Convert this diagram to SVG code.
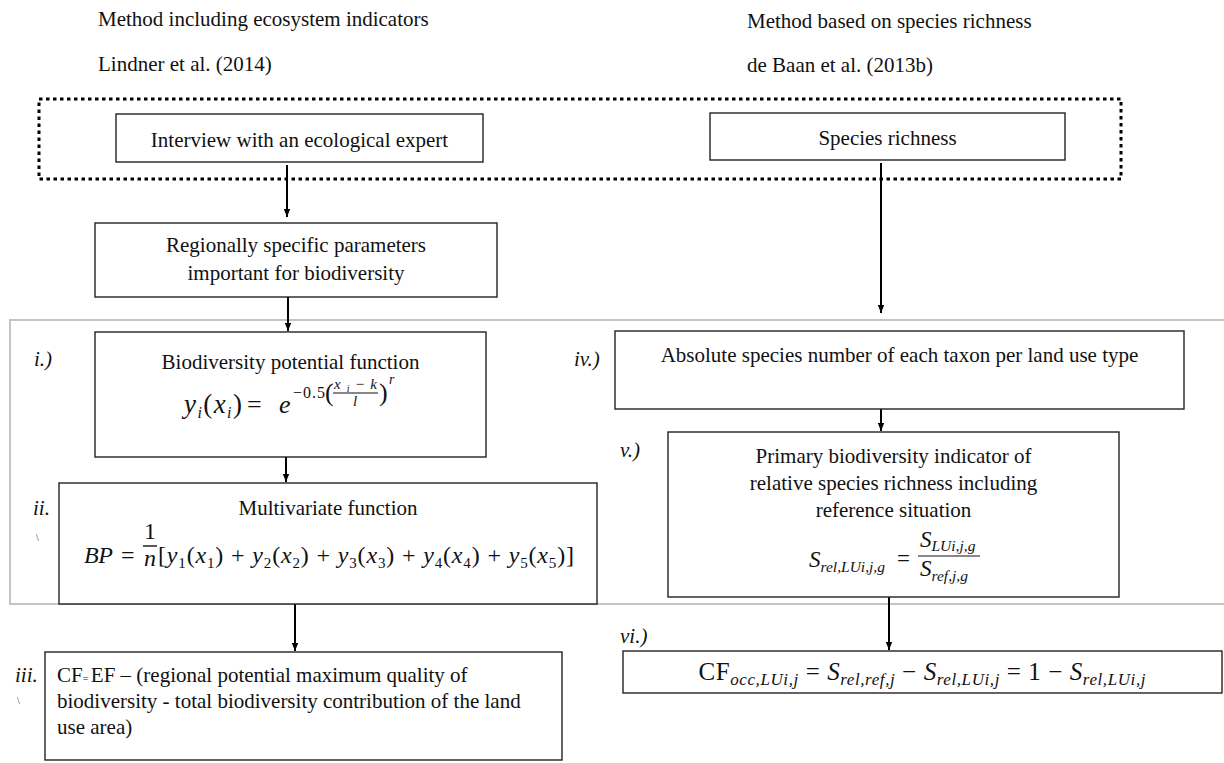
<svg xmlns="http://www.w3.org/2000/svg" width="1224" height="763" viewBox="0 0 1224 763">
<defs>
<style>
.t{font-family:"Liberation Serif","Times New Roman",serif;font-size:21px;fill:#111}
.c{text-anchor:middle}
.it{font-style:italic}
.m{font-family:"Liberation Serif","Times New Roman",serif;font-style:italic;font-size:24px;fill:#111}
.up{font-style:normal}
.sb{font-size:15px}
.box{fill:#fff;stroke:#222;stroke-width:1.4}
.arr{stroke:#000;stroke-width:2;fill:none;marker-end:url(#ah)}
.tick{font-family:"Liberation Serif",serif;font-size:10px;fill:#333}
</style>
<marker id="ah" viewBox="0 0 10 10" refX="10" refY="5" markerUnits="userSpaceOnUse" markerWidth="9" markerHeight="8" orient="auto">
<path d="M0,1 L10,5 L0,9 Z" fill="#000"/>
</marker>
</defs>
<rect width="1224" height="763" fill="#fff"/>

<g id="headers">
<text class="t" x="98" y="26">Method including ecosystem indicators</text>
<text class="t" x="98" y="71">Lindner et al. (2014)</text>
<text class="t" x="747" y="28">Method based on species richness</text>
<text class="t" x="747" y="72">de Baan et al. (2013b)</text>
</g>

<g id="frames">
<rect x="39" y="99" width="1082" height="80" fill="none" stroke="#000" stroke-width="3" stroke-dasharray="3.5 3.5"/>
<rect x="10" y="320" width="1230" height="284" fill="none" stroke="#c4c4c4" stroke-width="2"/>
</g>

<g id="connectors">
<line class="arr" x1="287" y1="165" x2="287" y2="217"/>
<line class="arr" x1="881" y1="163" x2="881" y2="313"/>
<line class="arr" x1="288" y1="297" x2="288" y2="331"/>
<line class="arr" x1="286" y1="457" x2="286" y2="482"/>
<line class="arr" x1="295" y1="604" x2="295" y2="651"/>
<line class="arr" x1="881" y1="405" x2="881" y2="431"/>
<line class="arr" x1="889" y1="597" x2="889" y2="650"/>
</g>

<g id="interview">
<rect class="box" x="116" y="114" width="367" height="48"/>
<text class="t c" x="299.5" y="147">Interview with an ecological expert</text>
</g>

<g id="species-richness">
<rect class="box" x="710" y="113" width="355" height="47"/>
<text class="t c" x="887.5" y="145">Species richness</text>
</g>

<g id="regional-parameters">
<rect class="box" x="95" y="223" width="402" height="74"/>
<text class="t c" x="296" y="252">Regionally specific parameters</text>
<text class="t c" x="296" y="280">important for biodiversity</text>
</g>

<g id="step-i">
<rect class="box" x="95" y="332" width="391" height="125"/>
<text class="t it" x="34" y="366">i.)</text>
<text class="t c" x="290.5" y="369">Biodiversity potential function</text>
<text class="m" x="184" y="413" style="font-size:27px" textLength="58">y<tspan style="font-size:16px" dy="5">i</tspan><tspan dy="-5" class="up">(</tspan>x<tspan style="font-size:16px" dy="5">i</tspan><tspan dy="-5" class="up">)</tspan></text>
<text class="m up" x="247" y="413" style="font-size:26px">=</text>
<text class="m" x="279" y="413" style="font-size:26px">e</text>
<text class="m up" x="293" y="398" style="font-size:16px" textLength="32">−0.5</text>
<text class="m up" x="325" y="401" style="font-size:26px">(</text>
<text class="m" x="334" y="389" style="font-size:15px" textLength="43">x<tspan style="font-size:10px" dy="3">i</tspan><tspan dy="-3" class="up">−</tspan>k</text>
<line x1="333" y1="393" x2="378" y2="393" stroke="#111" stroke-width="1.2"/>
<text class="m" x="353" y="406" style="font-size:15px">l</text>
<text class="m up" x="379" y="401" style="font-size:26px">)</text>
<text class="m" x="389" y="384" style="font-size:14px">r</text>
</g>

<g id="step-ii">
<rect class="box" x="59" y="483" width="538" height="121"/>
<text class="t it" x="33" y="515">ii.</text>
<text class="tick" x="36" y="541">\</text>
<text class="t c" x="328" y="515">Multivariate function</text>
<text class="m" x="84" y="563" textLength="29">BP</text>
<text class="m up" x="121" y="563">=</text>
<text class="m up c" x="150" y="539">1</text>
<line x1="143" y1="546" x2="157" y2="546" stroke="#111" stroke-width="1.4"/>
<text class="m c" x="150" y="566">n</text>
<text class="m" x="158" y="563" textLength="416"><tspan class="up">[</tspan>y<tspan class="sb up" dy="5">1</tspan><tspan class="up" dy="-5">(</tspan>x<tspan class="sb up" dy="5">1</tspan><tspan class="up" dy="-5">) + </tspan>y<tspan class="sb up" dy="5">2</tspan><tspan class="up" dy="-5">(</tspan>x<tspan class="sb up" dy="5">2</tspan><tspan class="up" dy="-5">) + </tspan>y<tspan class="sb up" dy="5">3</tspan><tspan class="up" dy="-5">(</tspan>x<tspan class="sb up" dy="5">3</tspan><tspan class="up" dy="-5">) + </tspan>y<tspan class="sb up" dy="5">4</tspan><tspan class="up" dy="-5">(</tspan>x<tspan class="sb up" dy="5">4</tspan><tspan class="up" dy="-5">) + </tspan>y<tspan class="sb up" dy="5">5</tspan><tspan class="up" dy="-5">(</tspan>x<tspan class="sb up" dy="5">5</tspan><tspan class="up" dy="-5">)]</tspan></text>
</g>

<g id="step-iii">
<rect class="box" x="45" y="652" width="517" height="108"/>
<text class="t it" x="15" y="682">iii.</text>
<text class="tick" x="17" y="704">\</text>
<text class="t" x="57" y="682">CF<tspan style="font-size:10px">= </tspan>EF – (regional potential maximum quality of</text>
<text class="t" x="57" y="708">biodiversity - total biodiversity contribution of the land</text>
<text class="t" x="57" y="734">use area)</text>
</g>

<g id="step-iv">
<rect class="box" x="615" y="331" width="569" height="78"/>
<text class="t it" x="574" y="366">iv.)</text>
<text class="t c" x="899.5" y="362">Absolute species number of each taxon per land use type</text>
</g>

<g id="step-v">
<rect class="box" x="668" y="432" width="451" height="165"/>
<text class="t it" x="620" y="457">v.)</text>
<text class="t c" x="893.5" y="463">Primary biodiversity indicator of</text>
<text class="t c" x="893.5" y="490">relative species richness including</text>
<text class="t c" x="893.5" y="517">reference situation</text>
<text class="m" x="809" y="567" style="font-size:23px">S<tspan style="font-size:15.5px" dy="5">rel,LUi,j,g</tspan></text>
<text class="m up" x="897" y="566" style="font-size:23px">=</text>
<text class="m" x="920" y="547" style="font-size:23px">S<tspan style="font-size:15.5px" dy="4">LUi,j,g</tspan></text>
<line x1="918" y1="556" x2="980" y2="556" stroke="#111" stroke-width="1.2"/>
<text class="m" x="920" y="576" style="font-size:23px">S<tspan style="font-size:15.5px" dy="5">ref,j,g</tspan></text>
</g>

<g id="step-vi">
<rect class="box" x="623" y="651" width="599" height="42"/>
<text class="t it" x="620" y="643">vi.)</text>
<text class="m c" x="922" y="680" style="font-size:25px" textLength="447"><tspan class="up">CF</tspan><tspan style="font-size:17px" dy="5">occ,LUi,j</tspan><tspan class="up" dy="-5"> = </tspan>S<tspan style="font-size:17px" dy="5">rel,ref,j</tspan><tspan class="up" dy="-5"> − </tspan>S<tspan style="font-size:17px" dy="5">rel,LUi,j</tspan><tspan class="up" dy="-5"> = 1 − </tspan>S<tspan style="font-size:17px" dy="5">rel,LUi,j</tspan></text>
</g>
</svg>
